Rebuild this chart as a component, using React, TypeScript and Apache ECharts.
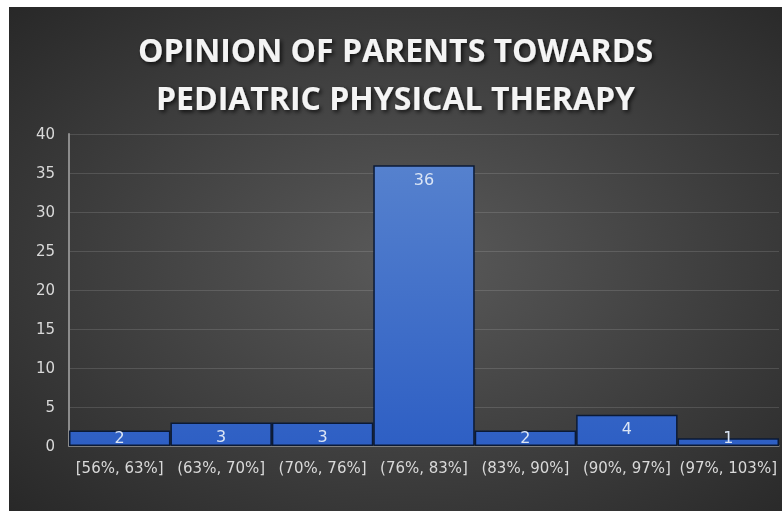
import React, { useEffect, useRef } from 'react';
import * as echarts from 'echarts';

const titleLines = ['OPINION OF PARENTS TOWARDS', 'PEDIATRIC PHYSICAL THERAPY'];
const categories = ['[56%, 63%]', '(63%, 70%]', '(70%, 76%]', '(76%, 83%]', '(83%, 90%]', '(90%, 97%]', '(97%, 103%]'];
const counts = [2, 3, 3, 36, 2, 4, 1];
const yMin = 0;
const yMax = 40;
const yInterval = 5;

export default function App() {
  const ref = useRef<HTMLDivElement>(null);
  useEffect(() => {
    if (!ref.current) return;
    const chart = echarts.init(ref.current, undefined, { renderer: 'svg' });
    const axisFont = 'DejaVu Sans';
    chart.setOption({
      animation: false,
      backgroundColor: {
        type: 'radial',
        x: 0.52,
        y: 0.5,
        r: 0.75,
        colorStops: [
          { offset: 0, color: '#5a5a5a' },
          { offset: 1, color: '#262626' },
        ],
      },
      title: {
        text: titleLines.join('\n'),
        left: 'center',
        top: 13,
        textStyle: {
          fontFamily: 'Open Sans',
          fontWeight: 'bold',
          fontSize: 32,
          lineHeight: 48,
          color: '#f4f4f4',
          textShadowColor: 'rgba(0,0,0,0.75)',
          textShadowBlur: 4,
          textShadowOffsetX: 2,
          textShadowOffsetY: 2,
        },
      },
      grid: { left: 60, right: 3, top: 127, bottom: 65, containLabel: false },
      xAxis: {
        type: 'category',
        data: categories,
        axisTick: { show: false },
        axisLine: { lineStyle: { color: '#8c8c8c', width: 1.5 } },
        axisLabel: { interval: 0, margin: 14, color: '#d9d9d9', fontFamily: axisFont, fontSize: 15 },
      },
      yAxis: {
        type: 'value',
        min: yMin,
        max: yMax,
        interval: yInterval,
        axisLine: { show: true, lineStyle: { color: '#8c8c8c', width: 2 } },
        axisTick: { show: false },
        splitLine: { lineStyle: { color: 'rgba(255,255,255,0.13)', width: 1 } },
        axisLabel: { margin: 14, color: '#d9d9d9', fontFamily: axisFont, fontSize: 15 },
      },
      series: [
        {
          type: 'bar',
          barCategoryGap: '0%',
          data: counts.map((v) => ({
            value: v,
            label: v < 3 ? { position: 'insideBottom', distance: 1 } : { position: 'insideTop', distance: 6 },
          })),
          itemStyle: {
            color: {
              type: 'linear',
              global: true,
              x: 0,
              y: 127,
              x2: 0,
              y2: 439,
              colorStops: [
                { offset: 0, color: '#5a85cf' },
                { offset: 1, color: '#2e5fc4' },
              ],
            },
            borderColor: '#0b1a36',
            borderWidth: 1.5,
          },
          label: {
            show: true,
            color: '#dbe5f5',
            fontFamily: axisFont,
            fontSize: 16,
          },
        },
      ],
    });
    return () => chart.dispose();
  }, []);
  return (
    <div
      ref={ref}
      style={{ position: 'fixed', left: 9, top: 7, width: 773, height: 504 }}
    />
  );
}
